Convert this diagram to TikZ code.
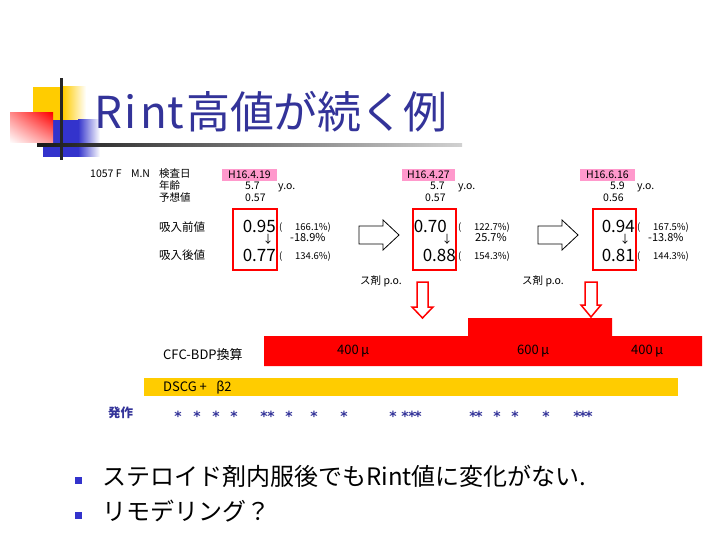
\documentclass[tikz,border=0pt]{standalone}
\usepackage{fontspec}
\usetikzlibrary{shadings}
\setmainfont{Noto Sans CJK JP}
\newfontfamily\dvs{DejaVu Sans}
\definecolor{titleblue}{HTML}{333399}
\definecolor{decoblue}{HTML}{3333CC}
\definecolor{markpink}{HTML}{FF99CC}
\definecolor{baryellow}{HTML}{FFCC00}
\definecolor{barred}{HTML}{FF0000}
\newcommand{\hw}[1]{\makebox[22.5pt][c]{#1}}
\newcommand{\fw}[1]{\makebox[43.4pt][c]{#1}}
\newcommand{\paren}{\makebox[16pt][l]{(}}
\begin{document}
\begin{tikzpicture}[x=1pt,y=-1pt,
  lbl/.style={anchor=base west, inner sep=0},
  sA/.style={lbl, font=\fontsize{10.5}{12}\selectfont},
  sB/.style={lbl, font=\fontsize{11.5}{13}\selectfont},
  sP/.style={lbl, font=\fontsize{9.5}{11}\selectfont},
  sQ/.style={lbl, font=\fontsize{11}{12}\selectfont},
  sBig/.style={anchor=base east, inner sep=0, font=\fontsize{17}{19}\selectfont},
  sBar/.style={lbl, font=\fontsize{13}{15}\selectfont},
  sBul/.style={lbl, font=\fontsize{24}{27}\selectfont},
  datebox/.style={fill=markpink, inner sep=0, minimum height=12pt, font=\fontsize{10.5}{12}\selectfont},
  downarr/.style={font=\fontsize{11}{12}\selectfont, inner sep=0},
  valbox/.style={draw=barred, line width=2pt},
  blockarr/.style={draw=black, fill=white, line width=0.8pt},
  poarr/.style={draw=barred, fill=white, line width=1.5pt},
  star/.style={anchor=base, inner sep=0, text=titleblue, font=\dvs\bfseries\fontsize{14}{14}\selectfont},
  bullet/.style={fill=decoblue, minimum size=7pt, inner sep=0}
]
\useasboundingbox (0,0) rectangle (720,540);
\fill[white] (0,0) rectangle (720,540);

% ---- title decoration
\fill[baryellow] (33,87) rectangle (63,120);
\shade[left color=baryellow, right color=white] (63,87) rectangle (86,120);
\fill[decoblue] (43,120) rectangle (78,157);
\shade[left color=decoblue, right color=white] (78,120) rectangle (100,157);
\shade[upper left=red!45, upper right=red, lower left=white, lower right=red!40] (10,113) rectangle (53,143);
\fill[black!85] (60,78) rectangle (63,160);
\shade[left color=black!90, right color=black!18] (37,144) rectangle (462,147);

% ---- title
\node[anchor=base west, inner sep=0, text=titleblue, font=\fontsize{44}{48}\selectfont] (title) at (97,129)
  {\hw{R}\hw{i}\hw{n}\hw{t}\fw{高}\fw{値}\fw{が}\fw{続}\fw{く}\fw{例}};

% ---- patient header
\node[sA] (pid) at (90,178) {1057 F\enspace\, M.N};
\node[sA] (lab1) at (159,178) {検査日};
\node[sA] (lab2) at (159,190) {年齢};
\node[sA] (lab3) at (159,202) {予想値};
\node[sB] (pre) at (159,231.4) {吸入前値};
\node[sB] (post) at (159,259.4) {吸入後値};

% ---- column 1
\node[datebox, minimum width=55pt] (d1) at (249.5,175) {H16.4.19};
\node[sA] (age1) at (245,189.5) {5.7};
\node[sA] (yo1) at (278,189.5) {y.o.};
\node[sA] (pr1) at (245,202) {0.57};
\draw[valbox] (233,209) rectangle (277,270);
\node[sBig] (a1) at (276,232.2) {0.95};
\node[downarr] (ar1) at (268,239) {↓};
\node[sBig] (b1) at (276,261.2) {0.77};
\node[sP] (pa1) at (279,230.6) {\paren 166.1\%)};
\node[sQ] (pc1) at (290,241) {-18.9\%};
\node[sP] (pb1) at (279,259.6) {\paren 134.6\%)};

% ---- arrow 1
\path[blockarr] (359,226) -- (383,226) -- (383,220) -- (399,235) -- (383,250) -- (383,244) -- (359,244) -- cycle;

% ---- column 2
\node[datebox, minimum width=53pt] (d2) at (428.5,175) {H16.4.27};
\node[sA] (age2) at (430,189.5) {5.7};
\node[sA] (yo2) at (458,189.5) {y.o.};
\node[sA] (pr2) at (425,202) {0.57};
\draw[valbox] (413,209) rectangle (456,270);
\node[sBig] (a2) at (447,232.2) {0.70};
\node[downarr] (ar2) at (447,239) {↓};
\node[sBig] (b2) at (456,261.2) {0.88};
\node[sP] (pa2) at (458,230.6) {\paren 122.7\%)};
\node[sQ] (pc2) at (475,241) {25.7\%};
\node[sP] (pb2) at (458,259.6) {\paren 154.3\%)};

% ---- arrow 2
\path[blockarr] (538,226) -- (562,226) -- (562,220) -- (578,235) -- (562,250) -- (562,244) -- (538,244) -- cycle;

% ---- column 3
\node[datebox, minimum width=55pt] (d3) at (607.5,175) {H16.6.16};
\node[sA] (age3) at (610,189.5) {5.9};
\node[sA] (yo3) at (637,189.5) {y.o.};
\node[sA] (pr3) at (603,202) {0.56};
\draw[valbox] (593,209) rectangle (636,270);
\node[sBig] (a3) at (635,232.2) {0.94};
\node[downarr] (ar3) at (625,239) {↓};
\node[sBig] (b3) at (635,261.2) {0.81};
\node[sP] (pa3) at (637,230.6) {\paren 167.5\%)};
\node[sQ] (pc3) at (648,241) {-13.8\%};
\node[sP] (pb3) at (637,259.6) {\paren 144.3\%)};

% ---- steroid p.o. markers
\node[sA] (po1) at (360,284) {ス剤 p.o.};
\node[sA] (po2) at (522,284) {ス剤 p.o.};
\path[poarr] (417,282) -- (428,282) -- (428,307) -- (433,307) -- (422.5,318) -- (412,307) -- (417,307) -- cycle;
\path[poarr] (585,282) -- (597,282) -- (597,305) -- (601,305) -- (591,317) -- (581,305) -- (585,305) -- cycle;

% ---- CFC-BDP bar
\fill[barred] (264,366) -- (264,336) -- (468,336) -- (468,318) -- (612,318) -- (612,336) -- (702,336) -- (702,366) -- cycle;
\node[sBar] (cfc) at (163,359.9) {CFC-BDP換算};
\node[sBar] (q1) at (337,354.9) {400\,μ};
\node[sBar] (q2) at (517,354.9) {600\,μ};
\node[sBar] (q3) at (631,354.9) {400\,μ};

% ---- DSCG bar
\fill[baryellow] (144,378) rectangle (678,396);
\node[sBar] (dscg) at (163,391.9) {DSCG + \enspace β2};

% ---- attacks
\node[lbl, text=titleblue, font=\bfseries\fontsize{12.5}{14}\selectfont] (hossa) at (108,417.8) {発作};
\foreach \sx [count=\i] in {178,197,216,234,264,271,289,314,344,393,405,412,418,473,479,497,515,546,577,583,589}
  \node[star] (st\i) at (\sx,421.5) {*};

% ---- bullets
\node[bullet] (bu1) at (78,480.5) {};
\node[sBul] (t1) at (102,485) {ステロイド剤内服後でもRint値に変化がない.};
\node[bullet] (bu2) at (78,515) {};
\node[sBul] (t2) at (102,520.5) {リモデリング？};
\end{tikzpicture}
\end{document}
